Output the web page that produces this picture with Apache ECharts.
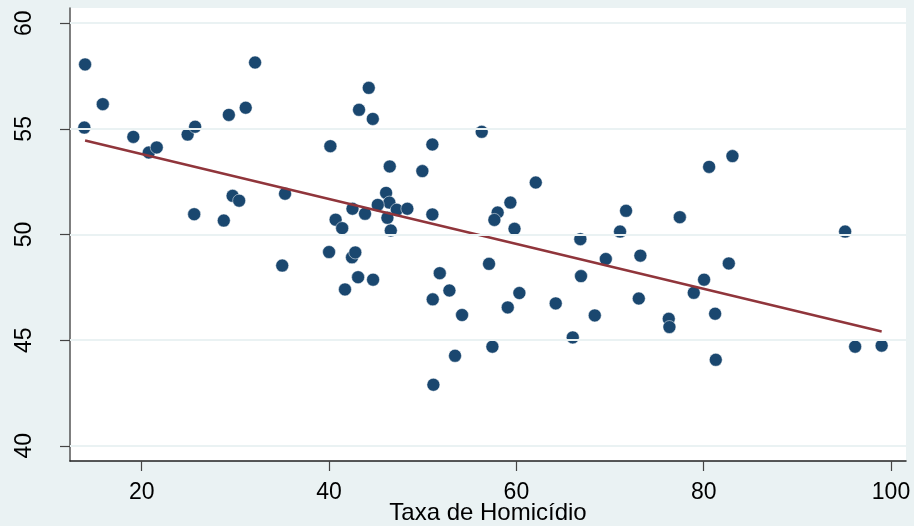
<!DOCTYPE html>
<html><head><meta charset="utf-8">
<script src="https://cdn.jsdelivr.net/npm/echarts@6.0.0/dist/echarts.min.js"></script>
<style>html,body{margin:0;padding:0;background:#EAF2F3;}#c{width:914px;height:526px;}</style>
</head><body><div id="c"></div>
<script>
// Taxa de Homicídio (x)
const homicideRate = [13.95,15.84,13.87,19.1,20.75,21.6,24.9,25.7,29.3,31.1,32.1,40.14,43.2,25.6,28.76,29.7,30.4,35.3,42.5,40.7,
  41.4,40.0,42.45,42.8,44.24,44.67,51.03,56.3,46.48,49.96,62.07,46.09,46.44,45.2,43.84,47.23,48.36,46.23,51.03,46.59,
  59.36,58.0,57.65,59.8,66.83,43.1,44.7,41.7,51.82,57.08,52.85,51.07,54.2,60.32,59.08,57.44,53.45,51.14,64.2,66.9,
  66.02,68.37,69.55,71.07,71.71,73.24,73.07,77.45,76.27,76.34,78.94,80.04,80.58,83.07,82.68,81.22,81.29,95.1,96.17,99.0,35.0];
// y values
const outcome = [58.05,56.17,55.06,54.62,53.88,54.12,54.73,55.1,55.66,56.0,58.14,54.18,55.9,50.96,50.66,51.83,51.6,51.93,51.22,50.7,
  50.3,49.17,48.92,49.15,56.94,55.47,54.26,54.86,53.22,53.0,52.46,51.97,51.51,51.4,50.98,51.17,51.22,50.79,50.95,50.19,
  51.51,51.04,50.69,50.27,49.78,47.98,47.86,47.4,48.17,48.61,47.35,46.93,46.19,47.23,46.55,44.69,44.26,42.89,46.74,48.03,
  45.13,46.17,48.84,50.14,51.12,49.0,46.97,50.82,46.01,45.62,47.24,47.86,53.2,53.71,48.63,46.25,44.07,50.14,44.69,44.74,48.53];
// fitted line endpoints
const fitX = [13.95, 99.0];
const fitY = [54.45, 45.41];
const xTicks = [20,40,60,80,100];
const yTicks = [40,45,50,55,60];
const xTitle = 'Taxa de Homicídio';

const points = homicideRate.map((x,i)=>[x, outcome[i]]);
const fitLine = fitX.map((x,i)=>[x, fitY[i]]);
const font = '"Liberation Sans", Arial, sans-serif';

const chart = echarts.init(document.getElementById('c'), null, {renderer:'canvas'});
chart.setOption({
  backgroundColor: '#EAF2F3',
  animation: false,
  grid: {left:70, right:8, top:8, bottom:65, show:true, backgroundColor:'#ffffff', borderWidth:0,
    containLabel:false, outerBoundsMode:'none'},
  xAxis: {
    type:'value', min:12.34, max:101.6,
    name: xTitle, nameLocation:'middle', nameGap:40, nameMoveOverlap:false,
    nameTextStyle:{fontFamily:font, fontSize:24, color:'#000'},
    axisLine:{show:true, onZero:false, lineStyle:{color:'#222', width:1.5}},
    axisTick:{show:true, length:10, customValues:xTicks, lineStyle:{color:'#444', width:1.2}},
    axisLabel:{customValues:xTicks, fontFamily:font, fontSize:23, color:'#000', margin:20},
    splitLine:{show:false}
  },
  yAxis: {
    type:'value', min:39.28, max:60.72,
    axisLine:{show:true, onZero:false, lineStyle:{color:'#555', width:1.5}},
    axisTick:{show:true, length:10, customValues:yTicks, lineStyle:{color:'#444', width:1.2}},
    axisLabel:{customValues:yTicks, rotate:90, fontFamily:font, fontSize:23, color:'#000', margin:34},
    splitLine:{show:false}
  },
  series: [
    {
      type:'line', data:[], z:1, silent:true,
      markLine:{symbol:'none', silent:true, label:{show:false},
        lineStyle:{color:'#EAF2F3', width:2, type:'solid'},
        data: yTicks.map(v=>({yAxis:v}))}
    },
    {
      type:'scatter', data:points, z:3, symbol:'circle', symbolSize:13,
      itemStyle:{color:'#1A476F', opacity:1, borderColor:'#ffffff', borderWidth:0.5}
    },
    {
      type:'line', data:fitLine, z:4, symbol:'none', smooth:false,
      lineStyle:{color:'#90353B', width:2.4}
    }
  ]
});
</script></body></html>
